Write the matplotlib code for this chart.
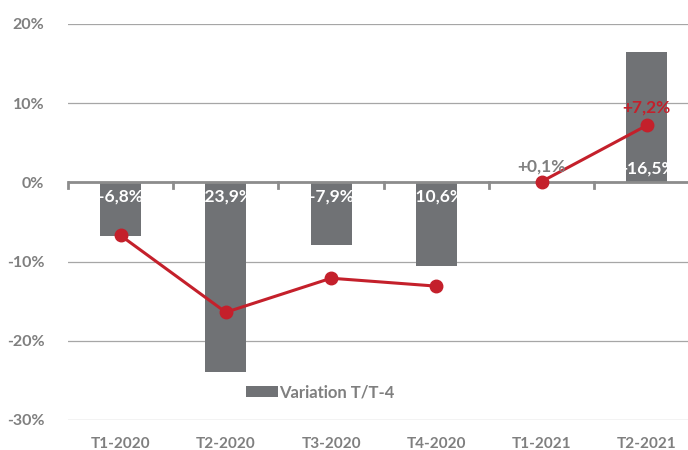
import matplotlib
matplotlib.use("Agg")
import matplotlib.pyplot as plt
import numpy as np

categories = ["T1-2020", "T2-2020", "T3-2020", "T4-2020", "T1-2021", "T2-2021"]
bar_values = [-6.8, -23.9, -7.9, -10.6, 0.1, 16.5]
bar_labels = ["-6,8%", "-23,9%", "-7,9%", "-10,6%", "+0,1%", "+16,5%"]
line_2020 = [-6.7, -16.4, -12.1, -13.1]
line_2021 = [0.1, 7.2]
line_label_2021 = "+7,2%"
yticks = [-30, -20, -10, 0, 10, 20]
ytick_labels = ["-30%", "-20%", "-10%", "0%", "10%", "20%"]
legend_label = "Variation T/T-4"

GRAY_TXT = "#7f7f7f"
BAR = "#707275"
RED = "#c4202b"
plt.rcParams['font.family'] = ['Lato', 'DejaVu Sans']

fig = plt.figure(figsize=(6.88, 4.5), dpi=100)
ax = fig.add_axes([0.0987, 0.0667, 0.918, 0.88])
x = np.arange(len(categories))
bars = ax.bar(x, bar_values, width=0.39, color=BAR, zorder=2, label=legend_label)

ax.set_xlim(-0.5, len(categories) - 0.5)
ax.set_ylim(-30, 20)
ax.set_yticks(yticks)
ax.set_yticklabels(ytick_labels, color=GRAY_TXT, fontsize=11.5, fontweight='bold')
ax.set_xticks(x)
ax.set_xticklabels(categories, color=GRAY_TXT, fontsize=11, fontweight='bold')
ax.tick_params(axis='both', length=0)
ax.tick_params(axis='y', pad=17)
ax.tick_params(axis='x', pad=12)
for s in ax.spines.values():
    s.set_visible(False)
ax.grid(axis='y', color='#a6a6a6', linewidth=0.9, zorder=0)
ax.set_axisbelow(True)

# zero axis with tick marks between categories
ax.axhline(0, color='#8c8c8c', linewidth=2, zorder=3)
for b in np.arange(-0.5, len(categories) - 0.5, 1.0):
    ax.plot([b, b], [0, -0.65], color='#8c8c8c', linewidth=2, zorder=3, clip_on=False)

ax.plot(x[:4], line_2020, color=RED, linewidth=2.2, marker='o', markersize=9, zorder=5)
ax.plot(x[4:], line_2021, color=RED, linewidth=2.2, marker='o', markersize=9, zorder=5)

# bar labels
for i, (v, lab) in enumerate(zip(bar_values, bar_labels)):
    if i == 4:
        ax.text(i, 1.0, lab, ha='center', va='bottom', color=GRAY_TXT,
                fontsize=12.5, fontweight='bold', zorder=6)
    elif v > 0:
        ax.text(i, 1.8, lab, ha='center', va='center', color='white',
                fontsize=12.5, fontweight='bold', zorder=6)
    else:
        ax.text(i, -1.8, lab, ha='center', va='center', color='white',
                fontsize=12.5, fontweight='bold', zorder=4)
ax.text(x[5], line_2021[1] + 1.2, line_label_2021, ha='center', va='bottom',
        color=RED, fontsize=12.5, fontweight='bold', zorder=6)

leg = ax.legend(handles=[bars], loc='center', bbox_to_anchor=(0.40, 0.07),
                frameon=False, handlelength=1.9, handleheight=0.6, handletextpad=0.1,
                prop={'weight': 'bold', 'size': 12, 'family': ['Lato', 'DejaVu Sans']})
for t in leg.get_texts():
    t.set_color(GRAY_TXT)

fig.savefig("out.png", dpi=100)
